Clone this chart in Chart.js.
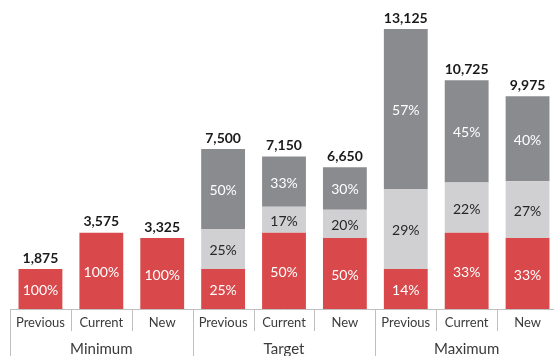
<!DOCTYPE html>
<html>
<head>
<meta charset="utf-8">
<script src="https://cdn.jsdelivr.net/npm/chart.js@4"></script>
<style>
  html, body { margin: 0; padding: 0; overflow: hidden; background: #fff; }
  #wrap { width: 558px; height: 362px; }
</style>
</head>
<body>
<div id="wrap"><canvas id="costChart"></canvas></div>
<script>
// chart values
const categories = ['Previous', 'Current', 'New', 'Previous', 'Current', 'New', 'Previous', 'Current', 'New'];
const groups = ['Minimum', 'Target', 'Maximum'];
const redValues = [1875, 3575, 3325, 1875, 3575, 3325, 1875, 3575, 3325];
const lightValues = [0, 0, 0, 1875, 1215, 1330, 3750, 2360, 2660];
const darkValues = [0, 0, 0, 3750, 2360, 1995, 7500, 4790, 3990];

const totals = redValues.map((v, i) => v + lightValues[i] + darkValues[i]);

const FONT = 'Lato, "Open Sans", sans-serif';

// percentages inside the segments, totals above the bars
const barLabels = {
    id: 'barLabels',
    afterDatasetsDraw(chart) {
        const ctx = chart.ctx;
        ctx.save();
        ctx.textAlign = 'center';
        ctx.textBaseline = 'middle';
        chart.data.datasets.forEach((ds, d) => {
            const meta = chart.getDatasetMeta(d);
            ctx.font = '14px ' + FONT;
            ctx.fillStyle = ds.labelColor;
            meta.data.forEach((bar, i) => {
                const v = ds.data[i];
                if (!v) return;
                const pct = Math.round(v / totals[i] * 100) + '%';
                ctx.fillText(pct, bar.x, (bar.y + bar.base) / 2 + 1.5);
            });
        });
        const meta0 = chart.getDatasetMeta(0);
        ctx.font = 'bold 14px ' + FONT;
        ctx.fillStyle = '#1a1a1a';
        totals.forEach((t, i) => {
            const y = chart.scales.y.getPixelForValue(t);
            ctx.fillText(t.toLocaleString('en-US'), meta0.data[i].x, y - 11);
        });
        ctx.restore();
    }
};

// box lines between the categories, longer ones between the groups
const axisSeparators = {
    id: 'axisSeparators',
    afterDraw(chart) {
        const x = chart.scales.x;
        const ctx = chart.ctx;
        const n = categories.length;
        const step = x.width / n;
        const per = n / groups.length;
        ctx.save();
        ctx.strokeStyle = '#bfbfbf';
        ctx.lineWidth = 1;
        for (let i = 0; i <= n; i++) {
            const px = Math.round(x.left + i * step) + 0.5;
            const bottom = (i % per === 0) ? chart.height : x.top + 22;
            ctx.beginPath();
            ctx.moveTo(px, x.top);
            ctx.lineTo(px, bottom);
            ctx.stroke();
        }
        ctx.restore();
    }
};

let costChart = document.getElementById('costChart').getContext('2d');

let new_cost_chart = new Chart(costChart, {
    type: 'bar',
    data: {
        labels: categories,
        datasets: [{
            data: redValues,
            backgroundColor: '#d9484a',
            labelColor: '#ffffff',
        }, {
            data: lightValues,
            backgroundColor: '#d0d0d2',
            labelColor: '#262626',
        }, {
            data: darkValues,
            backgroundColor: '#8a8b8e',
            labelColor: '#ffffff',
        }],
    },

    options: {
        responsive: true,
        maintainAspectRatio: false,
        animation: false,
        datasets: {
            bar: {
                categoryPercentage: 1,
                barPercentage: 0.72,
                borderWidth: 0,
            }
        },
        layout: {
            padding: { left: 10, right: 0, top: 0, bottom: 0.6 }
        },
        plugins: {
            legend: { display: false },
            tooltip: { enabled: false }
        },
        scales: {
            x: {
                stacked: true,
                grid: {
                    offset: true,
                    drawOnChartArea: false,
                    drawTicks: false,
                },
                border: { display: true, color: '#bfbfbf' },
                ticks: {
                    padding: 6,
                    maxRotation: 0,
                    autoSkip: false,
                    color: '#3a3a3a',
                    font: { family: FONT, size: 13 },
                },
            },
            x2: {
                type: 'category',
                position: 'bottom',
                labels: groups,
                grid: {
                    offset: true,
                    drawOnChartArea: false,
                    drawTicks: false,
                },
                border: { display: false },
                ticks: {
                    padding: 3.4,
                    maxRotation: 0,
                    autoSkip: false,
                    color: '#3a3a3a',
                    font: { family: FONT, size: 15 },
                },
            },
            y: {
                stacked: true,
                display: false,
                min: 0,
                max: 14484,
            }
        }
    },
    plugins: [barLabels, axisSeparators]
});
</script>
</body>
</html>
